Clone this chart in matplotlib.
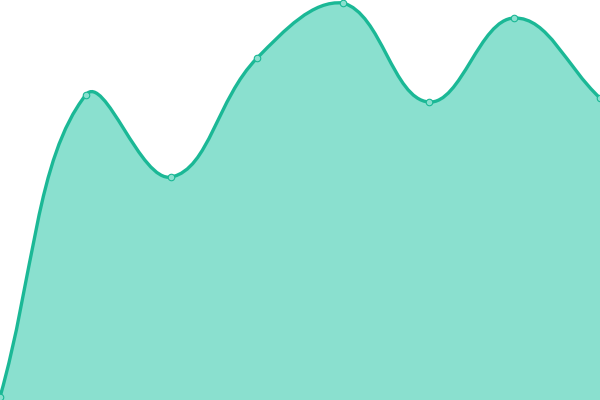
import numpy as np
import matplotlib
matplotlib.use("Agg")
import matplotlib.pyplot as plt
from matplotlib.path import Path
from matplotlib.patches import PathPatch

categories = ["A", "B", "C", "D", "E", "F", "G", "H"]
values = [3, 305, 223, 342, 397, 298, 382, 302]

LINE = "#1bb896"
FILL = "#8ae0cf"

fig = plt.figure(figsize=(6, 4), dpi=100)
ax = fig.add_axes([0, 0, 1, 1])
ax.set_xlim(0, len(categories) - 1)
ax.set_ylim(0, 400)
ax.axis("off")

xs = np.arange(len(categories), dtype=float)
ys = np.array(values, dtype=float)
pts = ax.transData.transform(np.column_stack([xs, ys]))
bbox = ax.bbox

tension = 0.4
n = len(pts)
cps = []
for i in range(n):
    cur = pts[i]
    prev = pts[i - 1] if i > 0 else cur
    nxt = pts[i + 1] if i < n - 1 else cur
    v = nxt - prev
    d01 = np.hypot(*(cur - prev))
    d12 = np.hypot(*(nxt - cur))
    s = d01 + d12
    s01 = d01 / s if s else 0
    s12 = d12 / s if s else 0
    c0 = cur - v * tension * s01
    c1 = cur + v * tension * s12
    for c in (c0, c1):
        c[0] = min(max(c[0], bbox.x0), bbox.x1)
        c[1] = min(max(c[1], bbox.y0), bbox.y1)
    cps.append((c0, c1))

verts = [pts[0]]
codes = [Path.MOVETO]
for i in range(n - 1):
    verts += [cps[i][1], cps[i + 1][0], pts[i + 1]]
    codes += [Path.CURVE4] * 3
inv = ax.transData.inverted()
verts_d = inv.transform(np.array(verts))

line_path = Path(verts_d, codes)
fill_verts = np.vstack([verts_d, [[xs[-1], 0], [xs[0], 0], verts_d[0]]])
fill_codes = codes + [Path.LINETO, Path.LINETO, Path.CLOSEPOLY]
ax.add_patch(PathPatch(Path(fill_verts, fill_codes), facecolor=FILL, edgecolor="none", zorder=1))
ax.add_patch(PathPatch(line_path, facecolor="none", edgecolor=LINE, lw=2.4, zorder=2, clip_on=False))
ax.scatter(xs, ys, s=22, facecolor=FILL, edgecolor=LINE, linewidth=0.8, zorder=3)

fig.savefig("out.png", dpi=100)
